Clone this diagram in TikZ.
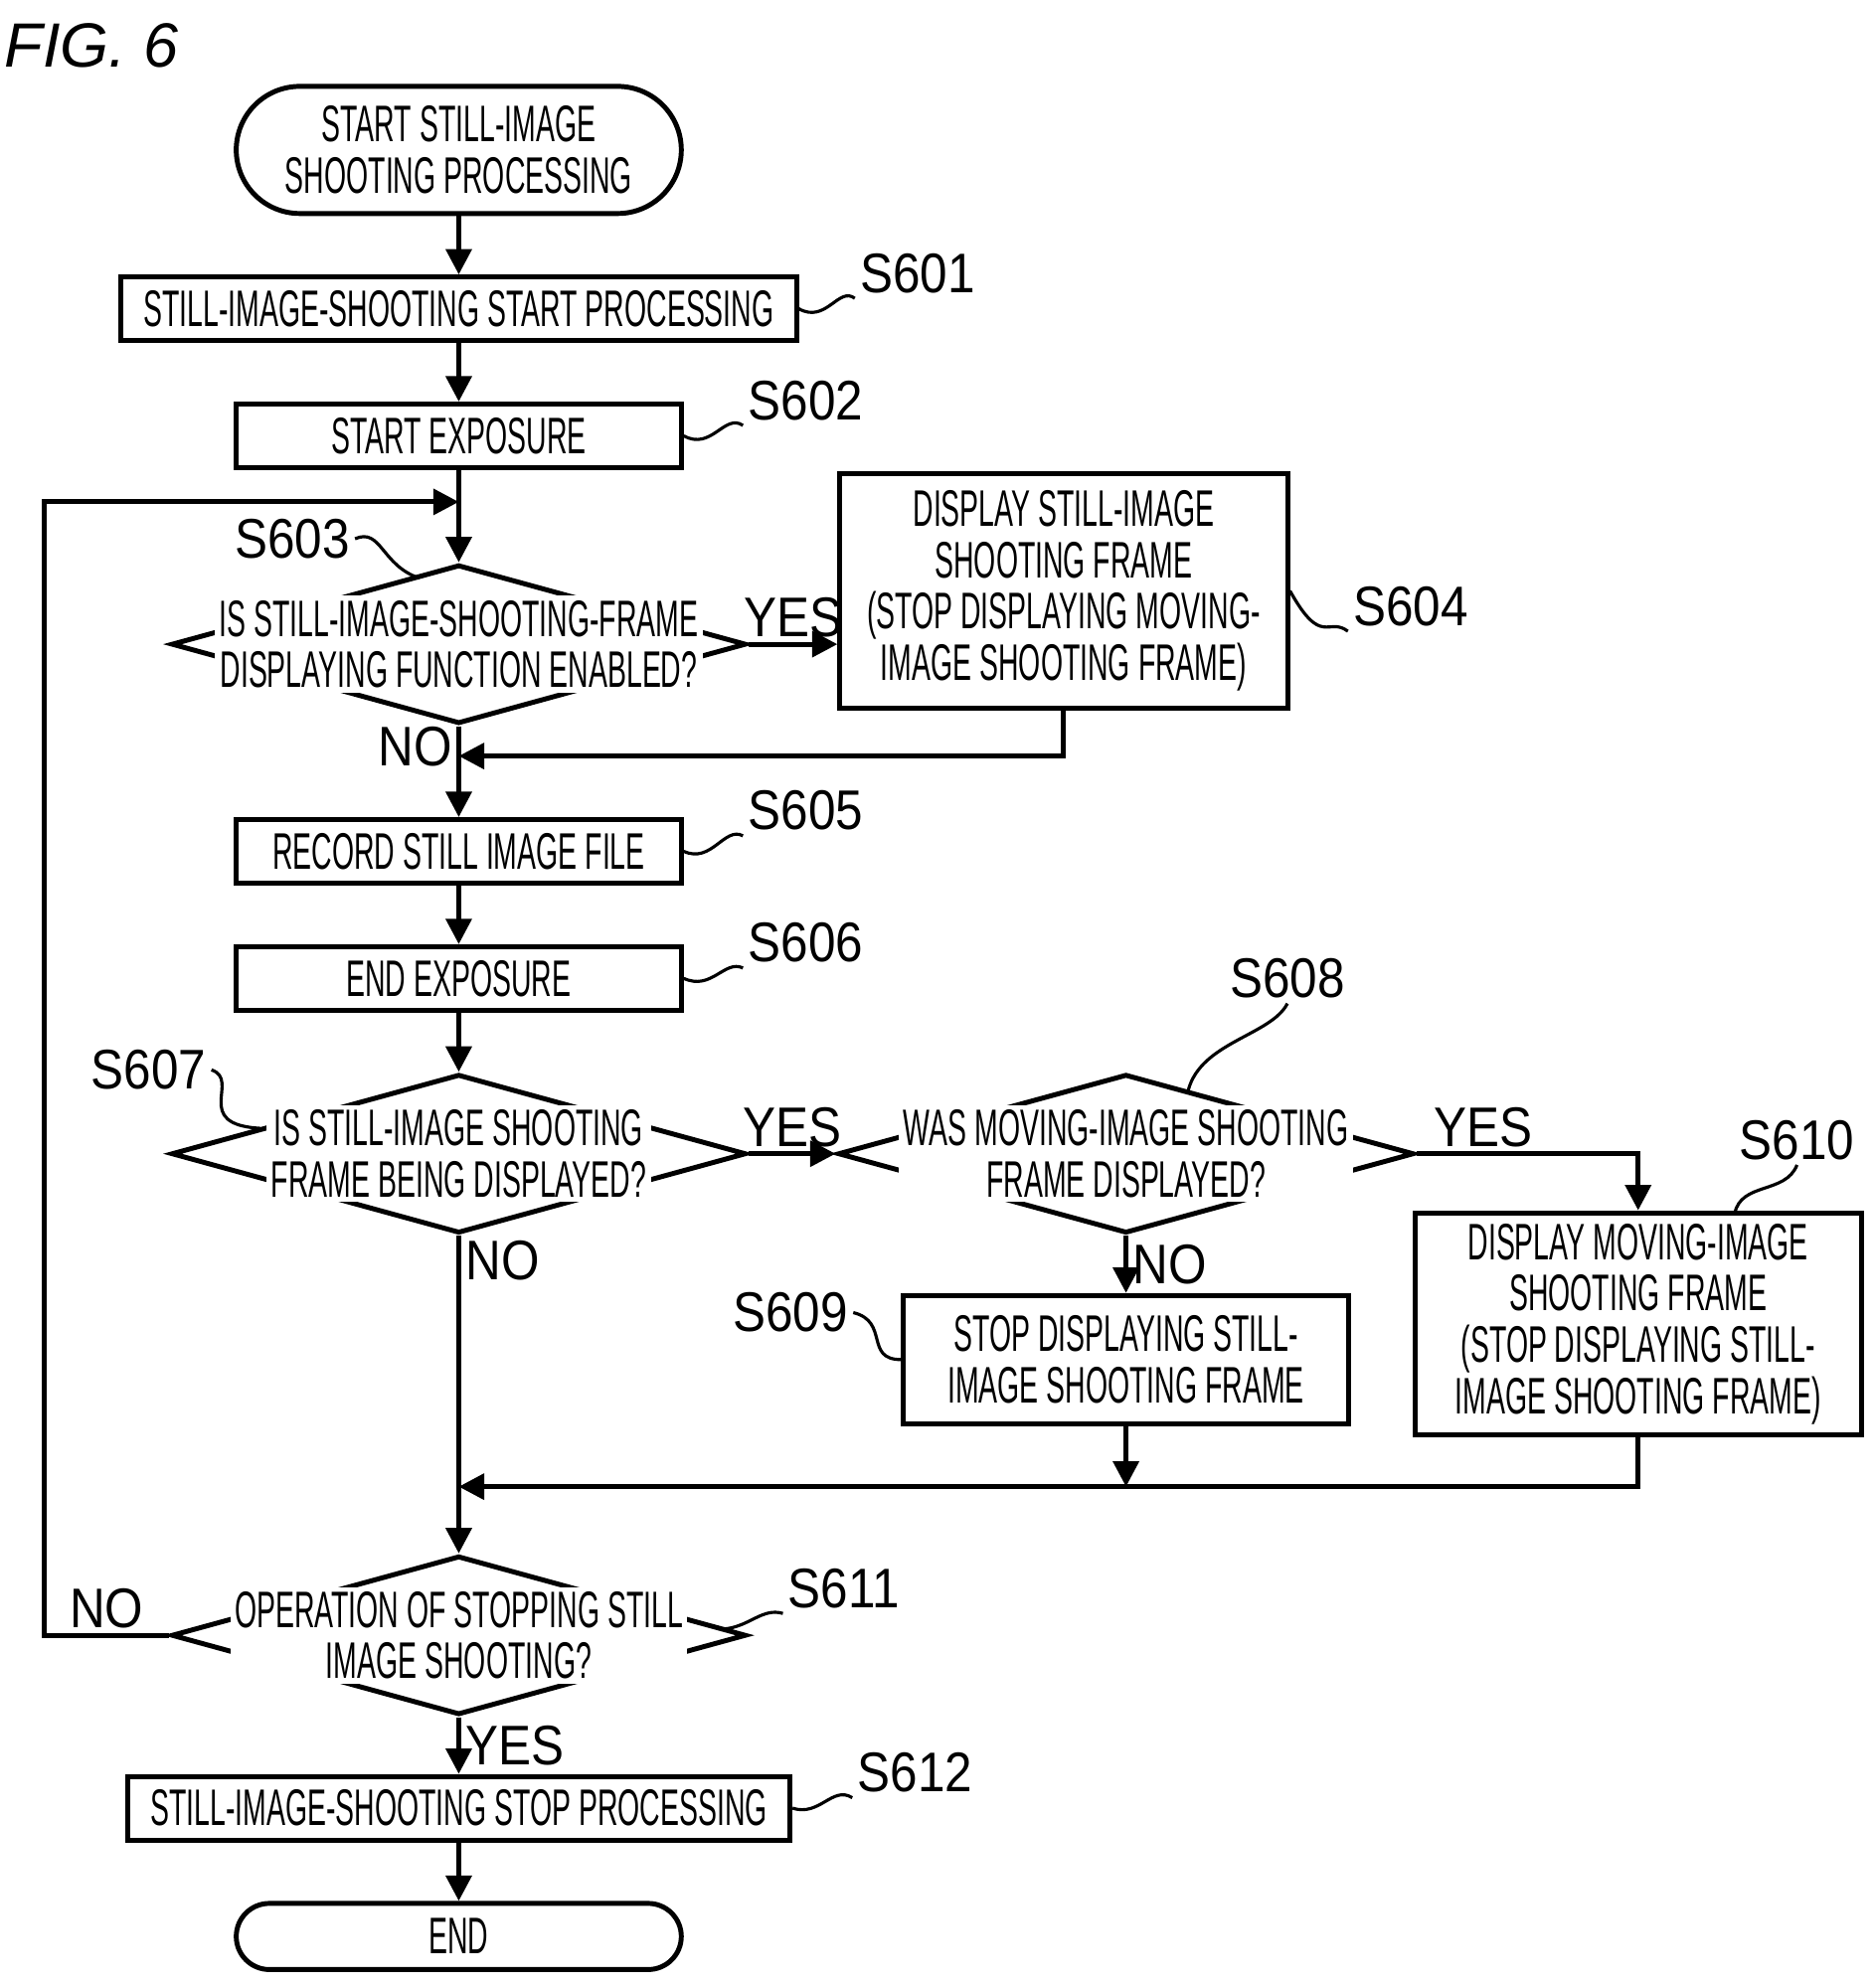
\documentclass[tikz,border=0pt]{standalone}
\usepackage{fontspec}
\setmainfont{Liberation Sans}
\newfontfamily\boxfont[FakeStretch=0.55]{Liberation Sans}
\newfontfamily\tagfont[FakeStretch=0.88]{Liberation Sans}
\usetikzlibrary{shapes.geometric,arrows.meta}
\tikzset{
  box/.style={draw, line width=1.1pt, font=\boxfont\fontsize{11.5}{11.5}\selectfont, align=center, inner sep=0, minimum height=0.5cm},
  term/.style={box, rounded corners=0.5cm},
  dia/.style={draw, diamond, line width=1.1pt, minimum width=4.52cm, minimum height=1.25cm, inner sep=0},
  dtext/.style={font=\boxfont\fontsize{11.5}{11.5}\selectfont, align=center, fill=white, inner sep=1pt},
  tag/.style={font=\tagfont\fontsize{12.5}{12.5}\selectfont, inner sep=1pt},
  yn/.style={font=\tagfont\fontsize{12.5}{12.5}\selectfont, inner sep=1pt},
  flow/.style={line width=1.1pt, -{Triangle[length=0.2cm,width=0.2cm]}},
  line/.style={line width=1.1pt},
  sq/.style={line width=0.7pt}
}
\begin{document}
\begin{tikzpicture}[x=0.01cm, y=-0.01cm]
	\useasboundingbox (0,0) rectangle (1476,1563);
	\node[font=\itshape\fontsize{14}{14}\selectfont] (fig) at (72,36) {FIG. 6};

	% main column
	\node[term, minimum width=3.5cm, minimum height=1cm] (start) at (361,118) {START STILL-IMAGE\\SHOOTING PROCESSING};
	\node[box, minimum width=5.31cm] (s601) at (361,243) {STILL-IMAGE-SHOOTING START PROCESSING};
	\node[box, minimum width=3.5cm] (s602) at (361,343) {START EXPOSURE};
	\coordinate (loopin) at (361,395);
	\node[dia] (d603) at (361,507) {};
	\node[dtext] at (d603) {IS STILL-IMAGE-SHOOTING-FRAME\\DISPLAYING FUNCTION ENABLED?};
	\node[box, minimum width=3.52cm, minimum height=1.84cm] (s604) at (837,465) {DISPLAY STILL-IMAGE\\SHOOTING FRAME\\(STOP DISPLAYING MOVING-\\IMAGE SHOOTING FRAME)};
	\coordinate (join1) at (361,595);
	\node[box, minimum width=3.5cm] (s605) at (361,670) {RECORD STILL IMAGE FILE};
	\node[box, minimum width=3.5cm] (s606) at (361,770) {END EXPOSURE};
	\node[dia] (d607) at (361,908) {};
	\node[dtext] at (d607) {IS STILL-IMAGE SHOOTING\\FRAME BEING DISPLAYED?};
	\node[dia, minimum width=4.53cm] (d608) at (886,908) {};
	\node[dtext] at (d608) {WAS MOVING-IMAGE SHOOTING\\FRAME DISPLAYED?};
	\node[box, minimum width=3.5cm, minimum height=1.01cm] (s609) at (886,1070) {STOP DISPLAYING STILL-\\IMAGE SHOOTING FRAME};
	\node[box, minimum width=3.51cm, minimum height=1.75cm] (s610) at (1289,1042) {DISPLAY MOVING-IMAGE\\SHOOTING FRAME\\(STOP DISPLAYING STILL-\\IMAGE SHOOTING FRAME)};
	\coordinate (join2) at (361,1170);
	\coordinate (join3) at (886,1170);
	\node[dia] (d611) at (361,1287) {};
	\node[dtext] at (d611) {OPERATION OF STOPPING STILL\\IMAGE SHOOTING?};
	\node[box, minimum width=5.21cm] (s612) at (361,1423) {STILL-IMAGE-SHOOTING STOP PROCESSING};
	\node[term, minimum width=3.5cm, minimum height=0.52cm, rounded corners=0.26cm] (end) at (361,1524) {END};

	% connectors
	\draw[flow] (start) -- (s601);
	\draw[flow] (s601) -- (s602);
	\draw[line] (s602) -- (loopin);
	\draw[flow] (loopin) -- (d603.north);
	\draw[flow] (d603.east) -- node[yn, above] {YES} (s604.west |- d603.east);
	\draw[line] (d603.south) -- node[yn, left, pos=0.7] {NO} (join1);
	\draw[flow] (s604.south) |- (join1);
	\draw[flow] (join1) -- (s605);
	\draw[flow] (s605) -- (s606);
	\draw[flow] (s606) -- (d607.north);
	\draw[flow] (d607.east) -- node[yn, above] {YES} (d608.west);
	\draw[flow] (d608.east) -| node[yn, pos=0.15, above] {YES} (s610.north);
	\draw[flow] (d608.south) -- node[yn, right, pos=0.5] {NO} (s609.north);
	\draw[flow] (s609.south) -- (join3);
	\draw[flow] (s610.south) |- (join2);
	\draw[line] (d607.south) -- node[yn, right, pos=0.1] {NO} (join2);
	\draw[flow] (join2) -- (d611.north);
	\draw[flow] (d611.west) -- node[yn, above, pos=0.5] {NO} (35,1287) -- (35,395) -- (loopin);
	\draw[flow] (d611.south) -- node[yn, right, pos=0.5] {YES} (s612);
	\draw[flow] (s612) -- (end);

	% step tags
	\node[tag] (t601) at (722,215) {S601};
	\node[tag] (t602) at (634,315) {S602};
	\node[tag] (t603) at (230,424) {S603};
	\node[tag] (t604) at (1110,477) {S604};
	\node[tag] (t605) at (634,638) {S605};
	\node[tag] (t606) at (634,742) {S606};
	\node[tag] (t607) at (117,842) {S607};
	\node[tag] (t608) at (1013,770) {S608};
	\node[tag] (t609) at (622,1033) {S609};
	\node[tag] (t610) at (1414,897) {S610};
	\node[tag] (t611) at (664,1250) {S611};
	\node[tag] (t612) at (720,1395) {S612};

	\draw[sq] (s601.east) .. controls (650,255) and (660,225) .. (t601.south west);
	\draw[sq] (s602.east) .. controls (560,355) and (570,325) .. (t602.south west);
	\draw[sq] (t603.east) .. controls (300,415) and (300,445) .. (330,455);
	\draw[sq] (s604.east) .. controls (1040,510) and (1045,485) .. (t604.south west);
	\draw[sq] (s605.east) .. controls (560,680) and (570,650) .. (t605.south west);
	\draw[sq] (s606.east) .. controls (560,780) and (570,755) .. (t606.south west);
	\draw[sq] (t607.east) .. controls (190,850) and (150,885) .. (205,888);
	\draw[sq] (t608.south) .. controls (1000,815) and (945,820) .. (935,858);
	\draw[sq] (t609.east) .. controls (700,1040) and (680,1070) .. (s609.west);
	\draw[sq] (t610.south) .. controls (1405,940) and (1370,930) .. (1365,955);
	\draw[sq] (570,1282) .. controls (590,1280) and (600,1265) .. (t611.south west);
	\draw[sq] (s612.east) .. controls (645,1430) and (655,1405) .. (t612.south west);
\end{tikzpicture}
\end{document}
